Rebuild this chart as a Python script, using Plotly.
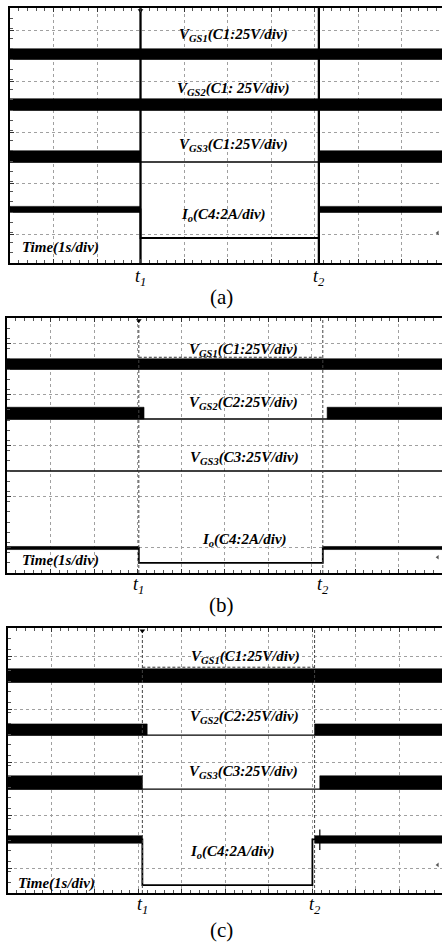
import plotly.graph_objects as go

W, H = 442, 943

# ---------------- data (x: seconds, 1 s/div; y: scope divisions) ----------------
# Panel (a)
a_t = [3.0, 7.1]
a_base = [4.0, 3.0, 1.98]          # VGS1, VGS2, VGS3 low level
a_high = [4.2, 3.22, 2.2]          # VGS high level (switching band top)
a_on = [[[0, 10]], [[0, 10]], [[0, 3.0], [7.1, 10]]]
a_io_time = [0, 3.0, 3.0, 7.1, 7.1, 10]
a_io_level = [1.05, 1.05, 0.49, 0.49, 1.05, 1.05]
a_io_ripple = [[0.99, 1.11]]
a_io_high_iv = [[0, 3.0], [7.1, 10]]
a_trig = 0.59

# Panel (b)
b_t = [3.03, 7.26]
b_base = [4.0, 3.02, 2.0]
b_high = [4.2, 3.25, 2.0]
b_on = [[[0, 10]], [[0, 3.15], [7.36, 10]], []]
b_io_time = [0, 3.03, 3.03, 7.26, 7.26, 10]
b_io_level = [0.49, 0.49, 0.2, 0.2, 0.49, 0.49]
b_io_ripple = [[0.46, 0.52]]
b_io_high_iv = [[0, 3.03], [7.26, 10]]
b_trig = 0.31

# Panel (c)
c_t = [3.09, 7.05]
c_base = [3.98, 2.98, 1.96]
c_high = [4.23, 3.19, 2.21]
c_on = [[[0, 10]], [[0, 3.2], [7.05, 10]], [[0, 3.09], [7.17, 10]]]
c_io_time = [0, 3.09, 3.09, 7.0, 7.0, 10]
c_io_level = [1.01, 1.01, 0.15, 0.15, 1.01, 1.01]
c_io_ripple = [[0.94, 1.08]]
c_io_high_iv = [[0, 3.09], [7.05, 10]]
c_spike_t = 7.17
c_spike = [0.81, 1.2]
c_trig = 0.53

labels_vgs_a = ["(C1:25V/div)", "(C1: 25V/div)", "(C1:25V/div)"]
labels_vgs_bc = ["(C1:25V/div)", "(C2:25V/div)", "(C3:25V/div)"]
label_io = "(C4:2A/div)"
label_time = "Time(1s/div)"
captions = ["(a)", "(b)", "(c)"]

# ---------------- layout geometry (pixels) ----------------
panels = [
    dict(top=8, bottom=263, left=10, xr=9.93, gtick0=0.55, solid=True, trig=a_trig,
         t=a_t, base=a_base, high=a_high, on=a_on, io_t=a_io_time, io_y=a_io_level,
         rip=a_io_ripple, rip_iv=a_io_high_iv, lab=labels_vgs_a,
         lab_y=[35, 89, 145], lab_x=[233, 233, 233], io_lab=(223, 215), time_lab=(20, 248),
         tlab_y=277, cap_y=297),
    dict(top=318, bottom=573, left=7, xr=10.0, gtick0=0.5, solid=False, trig=b_trig,
         t=b_t, base=b_base, high=b_high, on=b_on, io_t=b_io_time, io_y=b_io_level,
         rip=b_io_ripple, rip_iv=b_io_high_iv, lab=labels_vgs_bc,
         lab_y=[350, 403, 458], lab_x=[243, 243, 244], io_lab=(244, 540), time_lab=(20, 560),
         tlab_y=585, cap_y=605),
    dict(top=628, bottom=893, left=8, xr=9.98, gtick0=0.47, solid=False, trig=c_trig,
         t=c_t, base=c_base, high=c_high, on=c_on, io_t=c_io_time, io_y=c_io_level,
         rip=c_io_ripple, rip_iv=c_io_high_iv, lab=labels_vgs_bc,
         lab_y=[657, 717, 772], lab_x=[245, 244, 243], io_lab=(232, 852), time_lab=(16, 883),
         tlab_y=905, cap_y=930),
]

fig = go.Figure()
annotations = []
FONT = "Liberation Serif"


def px(xp):
    return xp / W


def py(yp):
    return 1 - yp / H


for i, p in enumerate(panels):
    n = "" if i == 0 else str(i + 1)
    xa, ya = "x" + n, "y" + n
    ymax = 5.0
    for ch in range(3):
        fig.add_trace(go.Scatter(x=[0, 10], y=[p["base"][ch]] * 2, mode="lines",
                                 line=dict(color="black", width=1.3), xaxis=xa, yaxis=ya,
                                 showlegend=False, hoverinfo="skip"))
        xs, ys = [], []
        for a, b in p["on"][ch]:
            xs += [a, b, b, a, a, None]
            ys += [p["base"][ch], p["base"][ch], p["high"][ch], p["high"][ch], p["base"][ch], None]
        if xs:
            fig.add_trace(go.Scatter(x=xs, y=ys, mode="lines", fill="toself",
                                     fillcolor="black", line=dict(color="black", width=0.6),
                                     xaxis=xa, yaxis=ya, showlegend=False, hoverinfo="skip"))
    if not p["solid"]:
        fig.add_trace(go.Scatter(x=[p["t"][0], p["t"][1]], y=[p["high"][0] + 0.03] * 2,
                                 mode="lines", line=dict(color="#333", width=1, dash="3px,2px"),
                                 xaxis=xa, yaxis=ya, showlegend=False, hoverinfo="skip"))
    fig.add_trace(go.Scatter(x=p["io_t"], y=p["io_y"], mode="lines",
                             line=dict(color="black", width=1.8),
                             xaxis=xa, yaxis=ya, showlegend=False, hoverinfo="skip"))
    lo, hi = p["rip"][0]
    xs, ys = [], []
    for a, b in p["rip_iv"]:
        xs += [a, b, b, a, a, None]
        ys += [lo, lo, hi, hi, lo, None]
    fig.add_trace(go.Scatter(x=xs, y=ys, mode="lines", fill="toself", fillcolor="black",
                             line=dict(color="black", width=0.6), xaxis=xa, yaxis=ya,
                             showlegend=False, hoverinfo="skip"))
    if i == 2:
        fig.add_trace(go.Scatter(x=[c_spike_t, c_spike_t], y=c_spike, mode="lines",
                                 line=dict(color="black", width=1.2), xaxis=xa, yaxis=ya,
                                 showlegend=False, hoverinfo="skip"))
    for t in p["t"]:
        if p["solid"]:
            ln = dict(color="black", width=2.3)
        else:
            ln = dict(color="#444", width=1, dash="3px,2px")
        fig.add_trace(go.Scatter(x=[t, t], y=[0, ymax], mode="lines", line=ln,
                                 xaxis=xa, yaxis=ya, showlegend=False, hoverinfo="skip"))
    # trigger position marker (top) and trigger level marker (right)
    fig.add_trace(go.Scatter(x=[p["t"][0]], y=[ymax - 0.05], mode="markers",
                             marker=dict(symbol="triangle-down", size=5, color="black"),
                             cliponaxis=False, xaxis=xa, yaxis=ya, showlegend=False,
                             hoverinfo="skip"))
    fig.add_trace(go.Scatter(x=[p["xr"] - 0.1], y=[p["trig"]], mode="markers",
                             marker=dict(symbol="triangle-left", size=4, color="#555"),
                             cliponaxis=False, xaxis=xa, yaxis=ya, showlegend=False,
                             hoverinfo="skip"))
    fig.add_trace(go.Scatter(x=[-0.05] * 4, y=p["base"] + [0], mode="markers",
                             marker=dict(symbol="circle-open", size=8, color="black",
                                         line=dict(width=1)),
                             cliponaxis=False, xaxis=xa, yaxis=ya, showlegend=False,
                             hoverinfo="skip"))

    dom_x = [px(p["left"]), 1]
    dom_y = [py(p["bottom"]), py(p["top"])]
    fig.update_layout(**{
        "xaxis" + n: dict(domain=dom_x, range=[0, p["xr"]], anchor=ya, tick0=0, dtick=1,
                          showgrid=True, gridcolor="#a0a0a0", griddash="dot", gridwidth=1,
                          showline=True, linecolor="black", linewidth=2, mirror="ticks",
                          ticks="inside", ticklen=4, tickcolor="#333",
                          minor=dict(dtick=0.2, ticks="inside", ticklen=3, tickcolor="#555",
                                     showgrid=False),
                          showticklabels=False, zeroline=False, fixedrange=True),
        "yaxis" + n: dict(domain=dom_y, range=[0, ymax], anchor=xa, tick0=p["gtick0"], dtick=1,
                          showgrid=True, gridcolor="#a0a0a0", griddash="dot", gridwidth=1,
                          showline=True, linecolor="black", linewidth=2, mirror=False,
                          ticks="inside", ticklen=4, tickcolor="#333",
                          minor=dict(dtick=0.2, ticks="inside", ticklen=3, tickcolor="#555",
                                     showgrid=False),
                          showticklabels=False, zeroline=False, fixedrange=True),
    })

    subs = ["GS1", "GS2", "GS3"]
    for ch in range(3):
        annotations.append(dict(
            x=px(p["lab_x"][ch]), y=py(p["lab_y"][ch]), xref="paper", yref="paper",
            text="<b><i>V<sub>%s</sub>%s</i></b>" % (subs[ch], p["lab"][ch]),
            showarrow=False, xanchor="center", yanchor="middle",
            font=dict(family=FONT, size=15, color="black")))
    annotations.append(dict(
        x=px(p["io_lab"][0]), y=py(p["io_lab"][1]), xref="paper", yref="paper",
        text="<b><i>I<sub>o</sub>%s</i></b>" % label_io, showarrow=False,
        xanchor="center", yanchor="middle", font=dict(family=FONT, size=15, color="black")))
    annotations.append(dict(
        x=px(p["time_lab"][0]), y=py(p["time_lab"][1]), xref="paper", yref="paper",
        text="<b><i>%s</i></b>" % label_time, showarrow=False,
        xanchor="left", yanchor="middle", font=dict(family=FONT, size=15, color="black")))
    for k, t in enumerate(p["t"]):
        annotations.append(dict(
            x=t, y=py(p["tlab_y"]), xref=xa, yref="paper",
            text="<i>t<sub>%d</sub></i>" % (k + 1), showarrow=False,
            xanchor="center", yanchor="middle", font=dict(family=FONT, size=18, color="black")))
    annotations.append(dict(
        x=0.5, y=py(p["cap_y"]), xref="paper", yref="paper", text=captions[i],
        showarrow=False, xanchor="center", yanchor="middle",
        font=dict(family=FONT, size=21, color="black")))

fig.update_layout(width=W, height=H, margin=dict(l=0, r=0, t=0, b=0),
                  paper_bgcolor="white", plot_bgcolor="white",
                  annotations=annotations, showlegend=False)

fig.write_html("out.html", config={"displayModeBar": False})
